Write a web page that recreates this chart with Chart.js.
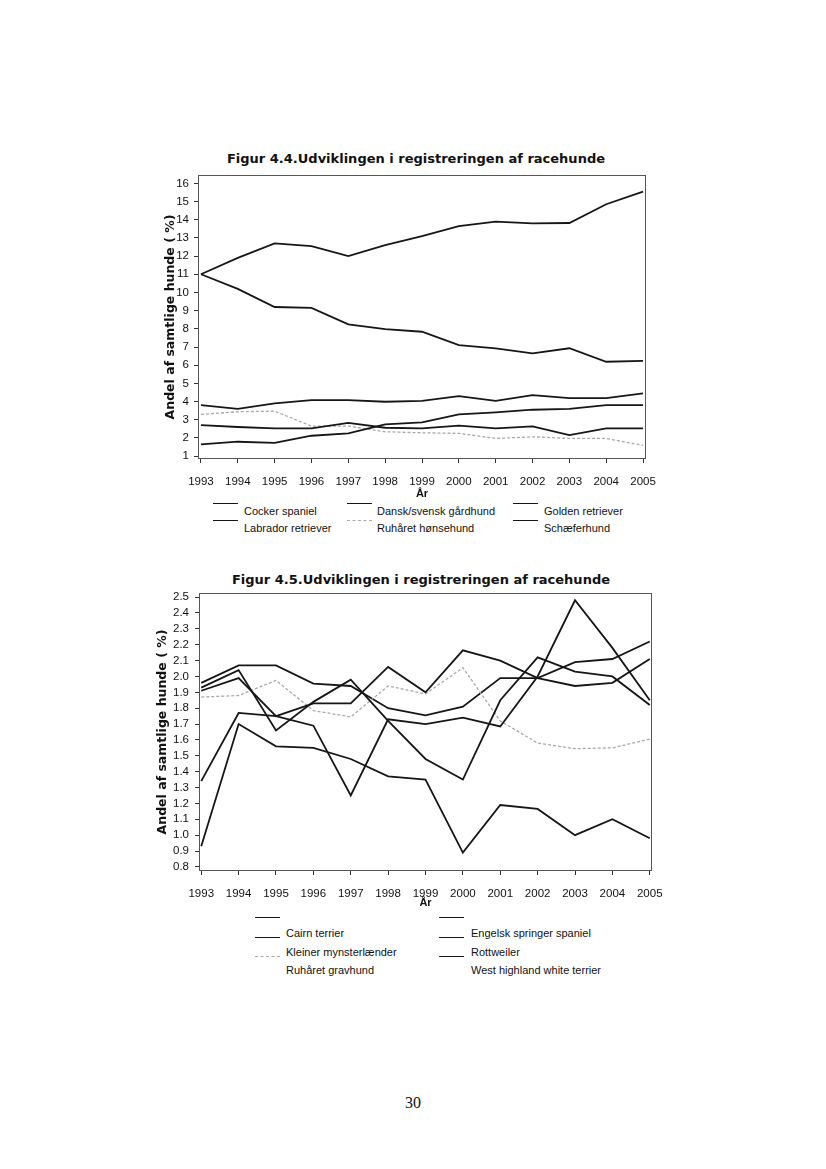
<!DOCTYPE html>
<html>
<head>
<meta charset="utf-8">
<script src="https://cdn.jsdelivr.net/npm/chart.js@4.4.1/dist/chart.umd.min.js"></script>
<style>
  body { margin: 0; background: #fff; }
  #page { position: relative; width: 826px; height: 1169px; background: #fff; overflow: hidden; }
  .ftitle { position: absolute; width: 440px; text-align: center; font: bold 13px "DejaVu Sans", sans-serif; color: #111; white-space: nowrap; }
  canvas { position: absolute; }
  .lg-line { position: absolute; width: 25px; height: 0; }
  .lg-text { position: absolute; font: 11px "Liberation Sans", Arial, sans-serif; line-height: 14px; color: #111; white-space: nowrap; }
  #pagenum { position: absolute; left: 0; width: 826px; top: 1094px; text-align: center; font: 16px "Liberation Serif", serif; color: #111; }
</style>
</head>
<body>
<div id="page">
  <div class="ftitle" id="title44" style="left:196px; top:151px;">Figur 4.4.Udviklingen i registreringen af racehunde</div>
  <canvas id="chart44" width="530" height="361" style="left:140px; top:140px;"></canvas>
  <div class="ftitle" id="title45" style="left:201px; top:572px;">Figur 4.5.Udviklingen i registreringen af racehunde</div>
  <canvas id="chart45" width="540" height="335" style="left:140px; top:575px;"></canvas>
  <div id="pagenum">30</div>
</div>
<script>
// years on the x axis
const years = [1993, 1994, 1995, 1996, 1997, 1998, 1999, 2000, 2001, 2002, 2003, 2004, 2005];

// Figur 4.4 - share of all dogs (%)
const names44 = ['Cocker spaniel', 'Dansk/svensk gårdhund', 'Golden retriever',
                 'Labrador retriever', 'Ruhåret hønsehund', 'Schæferhund'];
const cocker    = [2.70, 2.60, 2.52, 2.52, 2.83, 2.56, 2.52, 2.67, 2.52, 2.63, 2.15, 2.52, 2.52];
const dansk     = [1.64, 1.79, 1.73, 2.12, 2.25, 2.74, 2.85, 3.29, 3.40, 3.55, 3.60, 3.80, 3.80];
const golden    = [3.80, 3.60, 3.90, 4.08, 4.08, 3.99, 4.04, 4.30, 4.04, 4.35, 4.19, 4.19, 4.45];
const labrador  = [11.0, 11.9, 12.7, 12.55, 12.0, 12.6, 13.1, 13.65, 13.9, 13.8, 13.82, 14.85, 15.55];
const hoensehund = [3.29, 3.44, 3.47, 2.65, 2.65, 2.34, 2.28, 2.25, 1.97, 2.06, 1.97, 1.97, 1.59];
const schaefer  = [11.0, 10.2, 9.2, 9.15, 8.25, 7.98, 7.84, 7.1, 6.93, 6.65, 6.93, 6.19, 6.24];
const yTicks44  = [1, 2, 3, 4, 5, 6, 7, 8, 9, 10, 11, 12, 13, 14, 15, 16];

// Figur 4.5 - share of all dogs (%)
const names45 = ['Cairn terrier', 'Engelsk springer spaniel', 'Kleiner mynsterlænder',
                 'Rottweiler', 'Ruhåret gravhund', 'West highland white terrier'];
const cairn      = [1.91, 1.99, 1.75, 1.83, 1.83, 2.06, 1.90, 2.165, 2.10, 1.99, 1.94, 1.96, 2.11];
const springer   = [1.93, 2.04, 1.66, 1.84, 1.98, 1.72, 1.48, 1.35, 1.85, 2.12, 2.03, 2.00, 1.82];
const kleiner    = [1.34, 1.77, 1.75, 1.69, 1.25, 1.73, 1.70, 1.74, 1.685, 2.00, 2.48, 2.18, 1.85];
const rottweiler = [0.93, 1.70, 1.56, 1.55, 1.48, 1.37, 1.35, 0.89, 1.19, 1.165, 1.00, 1.10, 0.98];
const gravhund   = [1.87, 1.88, 1.975, 1.785, 1.745, 1.94, 1.89, 2.055, 1.72, 1.58, 1.545, 1.55, 1.605];
const westie     = [1.96, 2.07, 2.07, 1.955, 1.94, 1.80, 1.755, 1.81, 1.99, 1.99, 2.09, 2.11, 2.22];
const yTicks45   = [0.8, 0.9, 1.0, 1.1, 1.2, 1.3, 1.4, 1.5, 1.6, 1.7, 1.8, 1.9, 2.0, 2.1, 2.2, 2.3, 2.4, 2.5];

const BLACK = '#161616';
const GREY = '#a8a8a8';
const lineStyle = {
  solid: { color: BLACK, width: 1.8, dash: [] },
  dotted: { color: GREY, width: 1.3, dash: [3, 2] }
};

// draws the box round the plot area
const framePlugin = {
  id: 'frame',
  afterDraw(chart) {
    const { ctx, chartArea: a } = chart;
    ctx.save();
    ctx.strokeStyle = '#555';
    ctx.lineWidth = 1;
    ctx.strokeRect(Math.round(a.left) + 0.5, Math.round(a.top) + 0.5,
                   Math.round(a.width) - 1, Math.round(a.height) - 1);
    ctx.restore();
  }
};

function makeChart(id, series, names, styles, opts) {
  const datasets = series.map((s, i) => ({
    label: names[i],
    data: years.map((y, j) => ({ x: y, y: s[j] })),
    borderColor: lineStyle[styles[i]].color,
    borderWidth: lineStyle[styles[i]].width,
    borderDash: lineStyle[styles[i]].dash,
    pointRadius: 0,
    tension: 0,
    fill: false
  }));
  const tickFont = { family: '"Liberation Sans", Arial, sans-serif', size: 11.5 };
  return new Chart(document.getElementById(id), {
    type: 'line',
    data: { datasets },
    plugins: [framePlugin],
    options: {
      responsive: false,
      animation: false,
      layout: { padding: opts.padding },
      plugins: { legend: { display: false }, tooltip: { enabled: false } },
      scales: {
        x: {
          type: 'linear',
          min: opts.xMin,
          max: opts.xMax,
          afterBuildTicks: (scale) => { scale.ticks = years.map(v => ({ value: v })); },
          afterFit: (scale) => { scale.height = opts.xHeight; },
          ticks: { callback: v => String(v), font: tickFont, color: '#111', padding: 12, maxRotation: 0, autoSkip: false },
          grid: { drawOnChartArea: false, drawTicks: true, tickLength: 4, color: '#333' },
          border: { display: false },
          title: {
            display: true, text: 'År', color: '#111',
            font: { family: '"Liberation Sans", Arial, sans-serif', size: 11, weight: 'bold' },
            padding: { top: 0, bottom: 0 }
          }
        },
        y: {
          min: opts.yMin,
          max: opts.yMax,
          afterBuildTicks: (scale) => { scale.ticks = opts.yTicks.map(v => ({ value: v })); },
          afterFit: (scale) => { scale.width = opts.yWidth; },
          ticks: { callback: opts.yFormat, font: tickFont, color: '#111', padding: opts.yPad, autoSkip: false },
          grid: { drawOnChartArea: false, drawTicks: true, tickLength: 4, color: '#333' },
          border: { display: false },
          title: {
            display: true, text: 'Andel af samtlige hunde ( %)', color: '#111',
            font: { family: '"DejaVu Sans", sans-serif', size: 12.5, weight: 'bold' },
            padding: { top: opts.yTitlePad, bottom: 0 }
          }
        }
      }
    }
  });
}

makeChart('chart44',
  [cocker, dansk, golden, labrador, hoensehund, schaefer], names44,
  ['solid', 'solid', 'solid', 'solid', 'dotted', 'solid'],
  { padding: { left: 0, right: 24, top: 35, bottom: 0 }, xMin: 1992.92, xMax: 2005.08,
    yMin: 0.84, yMax: 16.46, yTicks: yTicks44, yFormat: v => String(v), yPad: 5,
    yWidth: 58, xHeight: 42, yTitlePad: 23.5 });

makeChart('chart45',
  [cairn, springer, kleiner, rottweiler, gravhund, westie], names45,
  ['solid', 'solid', 'solid', 'solid', 'dotted', 'solid'],
  { padding: { left: 0, right: 28, top: 18, bottom: 0 }, xMin: 1992.94, xMax: 2005.06,
    yMin: 0.774, yMax: 2.526, yTicks: yTicks45, yFormat: v => v.toFixed(1), yPad: 6,
    yWidth: 59, xHeight: 39, yTitlePad: 15 });

// HTML legends laid out like the original (line sample above-left of the text)
function makeLegend(names, styles, layout) {
  const page = document.getElementById('page');
  names.forEach((name, i) => {
    const col = i % layout.cols;
    const row = Math.floor(i / layout.cols);
    const st = lineStyle[styles[i]];
    const line = document.createElement('div');
    line.className = 'lg-line';
    line.style.left = layout.lineX[col] + 'px';
    line.style.top = layout.lineY[row] + 'px';
    line.style.borderTop = (styles[i] === 'dotted' ? '1px dashed ' : '1.5px solid ') + st.color;
    page.appendChild(line);
    const txt = document.createElement('div');
    txt.className = 'lg-text';
    txt.textContent = name;
    txt.style.left = layout.textX[col] + 'px';
    txt.style.top = (layout.textY[row] - 7) + 'px';
    page.appendChild(txt);
  });
}

makeLegend(names44, ['solid', 'solid', 'solid', 'solid', 'dotted', 'solid'],
  { cols: 3, lineX: [213, 347, 513], textX: [244, 377, 544], lineY: [503, 520], textY: [511, 528] });
makeLegend(names45, ['solid', 'solid', 'solid', 'solid', 'dotted', 'solid'],
  { cols: 2, lineX: [255, 439], textX: [286, 471], lineY: [917, 937, 956], textY: [933, 952, 970] });
</script>
</body>
</html>
